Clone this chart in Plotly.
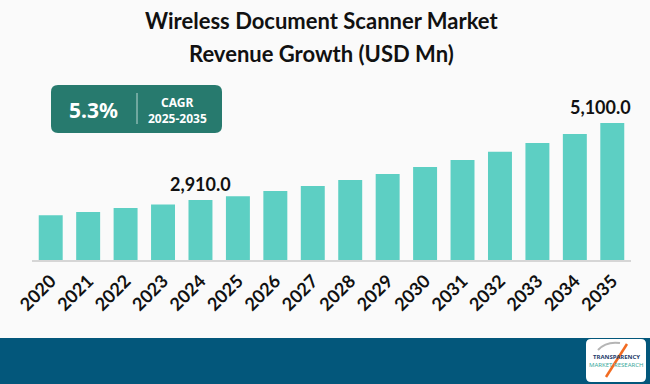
import plotly.graph_objects as go

# ---------------- data ----------------
years = [str(y) for y in range(2020, 2036)]
revenue = [2480, 2570, 2680, 2780, 2910, 3020, 3170, 3310, 3480, 3650,
           3850, 4050, 4280, 4530, 4790, 5100]
labelled_years = ["2024", "2035"]
labelled_values = [2910, 5100]
label_texts = ["2,910.0", "5,100.0"]
cagr_value = "5.3%"
cagr_label = "CAGR"
cagr_period = "2025-2035"
title_lines = ["Wireless Document Scanner Market", "Revenue Growth (USD Mn)"]
logo_lines = ["TRANSPARENCY", "MARKET RESEARCH"]

# ---------------- layout helpers ----------------
W, H = 650, 384
L, R, T, B = 32, 19, 100, 124
pw, ph = W - L - R, H - T - B


def px(x):
    return (x - L) / pw


def py(y):
    return (H - B - y) / ph


def rounded_rect(x0, y0, x1, y1, r):
    rx, ry = r / pw, r / ph
    a, b, c, d = px(x0), py(y1), px(x1), py(y0)  # left, bottom, right, top
    return (f"M {a+rx},{b} L {c-rx},{b} Q {c},{b} {c},{b+ry} "
            f"L {c},{d-ry} Q {c},{d} {c-rx},{d} L {a+rx},{d} "
            f"Q {a},{d} {a},{d-ry} L {a},{b+ry} Q {a},{b} {a+rx},{b} Z")


FONT = "Lato, 'Open Sans', sans-serif"
CFONT = "'Noto Sans', sans-serif"
BAR = "#5DCFC3"
BG = "#FAFAFA"

fig = go.Figure()
fig.add_trace(go.Bar(x=years, y=revenue, marker=dict(color=BAR, line=dict(width=0)),
                     hoverinfo="skip", cliponaxis=True))

y_min = 1204
y_max = y_min + ph / 0.03516

shapes = [
    dict(type="rect", xref="paper", yref="paper", x0=px(0), x1=px(W), y0=py(H), y1=py(338),
         fillcolor="#03577B", line=dict(width=0), layer="above"),
    dict(type="path", xref="paper", yref="paper", path=rounded_rect(51, 85, 222, 133, 7),
         fillcolor="#277A6E", line=dict(width=0)),
    dict(type="line", xref="paper", yref="paper", x0=px(137), x1=px(137), y0=py(93), y1=py(124),
         line=dict(color="#B9D6D1", width=1)),
    dict(type="path", xref="paper", yref="paper", path=rounded_rect(586, 339, 646, 382, 5),
         fillcolor="#FFFFFF", line=dict(width=0), layer="above"),
    dict(type="path", xref="paper", yref="paper",
         path=(f"M {px(598)},{py(350)} Q {px(606)},{py(341)} {px(620)},{py(343)}"),
         line=dict(color="#B5B5B5", width=2), layer="above"),
    dict(type="line", xref="paper", yref="paper", x0=px(606), y0=py(377), x1=px(627), y1=py(344),
         line=dict(color="#F26B21", width=2.5), layer="above"),
]


def paper_text(x, y, text, size, color, family):
    return dict(xref="paper", yref="paper", x=px(x), y=py(y), text=text, showarrow=False,
                xanchor="center", yanchor="middle",
                font=dict(family=family, size=size, color=color))


annotations = []
for i, line in enumerate(title_lines):
    annotations.append(paper_text(321, 20 + 34 * i, f"<b>{line}</b>", 22, "#111111", FONT))

for yr, val, txt, xs in zip(labelled_years, labelled_values, label_texts, [0, -12]):
    annotations.append(dict(xref="x", yref="y", x=years.index(yr), y=val,
                            text=f"<b>{txt}</b>", showarrow=False,
                            xanchor="center", yanchor="bottom", yshift=3, xshift=xs,
                            font=dict(family=FONT, size=18, color="#111111")))

annotations += [
    paper_text(93, 110, f"<b>{cagr_value}</b>", 21, "white", CFONT),
    paper_text(177, 102, f"<b>{cagr_label}</b>", 12, "white", CFONT),
    paper_text(177, 118, f"<b>{cagr_period}</b>", 12, "white", CFONT),
    paper_text(616, 357, f"<b>{logo_lines[0]}</b>", 6, "#1F3D6B", CFONT),
    paper_text(616, 365, logo_lines[1], 6, "#3BA99C", CFONT),
]

fig.update_layout(
    width=W, height=H,
    margin=dict(l=L, r=R, t=T, b=B, autoexpand=False),
    paper_bgcolor=BG, plot_bgcolor=BG,
    bargap=0.36,
    showlegend=False,
    shapes=shapes,
    annotations=annotations,
    xaxis=dict(type="category", categoryorder="array", categoryarray=years,
               range=[-0.5, len(years) - 0.5], automargin=False,
               showline=True, linecolor="#D6D6D6", linewidth=1.5,
               showgrid=False, ticks="outside", ticklen=2, tickcolor="rgba(0,0,0,0)",
               tickangle=-45,
               tickfont=dict(family=FONT, size=18, color="#111111"),
               tickvals=years, ticktext=[f"<b>{y}</b>" for y in years]),
    yaxis=dict(range=[y_min, y_max], visible=False, showgrid=False, zeroline=False,
               automargin=False),
)

fig.write_html("out.html", config={"displayModeBar": False, "staticPlot": True},
               post_script="document.body.style.margin='0px';")
